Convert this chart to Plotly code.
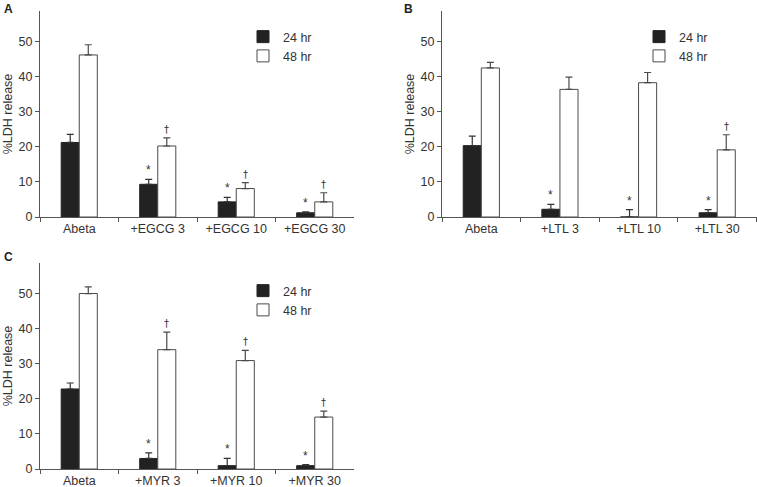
import plotly.graph_objects as go

cats_a = ["Abeta", "+EGCG 3", "+EGCG 10", "+EGCG 30"]
a24 = [21.2, 9.3, 4.3, 1.2]
a24_err = [2.3, 1.4, 1.3, 0.3]
a48 = [46.1, 20.2, 8.1, 4.3]
a48_err = [2.9, 2.3, 1.7, 2.6]
a_star = [False, True, True, True]
a_dag = [False, True, True, True]

cats_b = ["Abeta", "+LTL 3", "+LTL 10", "+LTL 30"]
b24 = [20.3, 2.2, 0.0, 1.2]
b24_err = [2.7, 1.4, 2.1, 0.9]
b48 = [42.4, 36.3, 38.2, 19.1]
b48_err = [1.6, 3.5, 2.9, 4.3]
b_star = [False, True, True, True]
b_dag = [False, False, False, True]

cats_c = ["Abeta", "+MYR 3", "+MYR 10", "+MYR 30"]
c24 = [22.8, 3.0, 0.95, 0.95]
c24_err = [1.7, 1.6, 2.1, 0.3]
c48 = [50.0, 34.0, 30.9, 14.8]
c48_err = [1.9, 5.0, 2.9, 1.7]
c_star = [False, True, True, True]
c_dag = [False, True, True, True]

yticks = [0, 10, 20, 30, 40, 50]
series_names = ["24 hr", "48 hr"]

FONT = "Liberation Sans, Arial, sans-serif"
TXT = "#333333"
AX = "#555555"
BARGAP = 0.54
FS = 12.5

fig = go.Figure()
panels = [
    ("A", cats_a, a24, a24_err, a48, a48_err, a_star, a_dag, "x", "y", "legend"),
    ("B", cats_b, b24, b24_err, b48, b48_err, b_star, b_dag, "x2", "y2", "legend2"),
    ("C", cats_c, c24, c24_err, c48, c48_err, c_star, c_dag, "x3", "y3", "legend3"),
]

annotations = []
for label, cats, v24, e24, v48, e48, st, dg, xa, ya, lg in panels:
    fig.add_trace(go.Bar(
        x=cats, y=v24, name=series_names[0], xaxis=xa, yaxis=ya, legend=lg,
        marker=dict(color="#222222", line=dict(color="#222222", width=1)),
        error_y=dict(type="data", array=e24, arrayminus=[0] * len(e24), symmetric=False,
                     width=3.5, thickness=1.2, color="#333333"),
    ))
    fig.add_trace(go.Bar(
        x=cats, y=v48, name=series_names[1], xaxis=xa, yaxis=ya, legend=lg,
        marker=dict(color="white", line=dict(color="#4a4a4a", width=1)),
        error_y=dict(type="data", array=e48, arrayminus=[0] * len(e48), symmetric=False,
                     width=3.5, thickness=1.2, color="#4a4a4a"),
    ))
    off = (1 - BARGAP) / 4
    for i in range(len(cats)):
        if st[i]:
            annotations.append(dict(x=i - off, y=v24[i] + e24[i], xref=xa, yref=ya, text="*",
                                    showarrow=False, yanchor="bottom", yshift=0,
                                    font=dict(family=FONT, size=12, color="#333333")))
        if dg[i]:
            annotations.append(dict(x=i + off, y=v48[i] + e48[i], xref=xa, yref=ya, text="†",
                                    showarrow=False, yanchor="bottom", yshift=1,
                                    font=dict(family="DejaVu Sans, sans-serif", size=10,
                                              color="#333333")))

W, H = 757, 487
def fx(p):
    return p / W
def fy(p):
    return 1 - p / H

xdom_l = [fx(40), fx(354)]
xdom_r = [fx(442), fx(756.5)]
ydom_t = [fy(217), fy(11)]
ydom_b = [fy(469), fy(263)]

axis_common = dict(showline=True, linecolor=AX, linewidth=1, ticks="outside", tickcolor=AX,
                   ticklen=4, tickwidth=1, showgrid=False, zeroline=False, automargin=False,
                   tickfont=dict(family=FONT, size=FS, color=TXT))

xcommon = dict(axis_common, type="category", tickson="boundaries", range=[-0.5, 3.5], ticklen=4)
ycommon = dict(axis_common, tickvals=yticks,
               title=dict(text="%LDH release", font=dict(family=FONT, size=FS, color=TXT), standoff=3))

leg = dict(xanchor="left", yanchor="top", bgcolor="rgba(0,0,0,0)",
           font=dict(family=FONT, size=FS, color=TXT), tracegroupgap=0)

fig.update_layout(
    width=W, height=H, margin=dict(l=0, r=0, t=0, b=0, autoexpand=False),
    paper_bgcolor="white", plot_bgcolor="white",
    barmode="group", bargap=BARGAP, bargroupgap=0,
    font=dict(family=FONT, size=FS, color=TXT),
    xaxis=dict(xcommon, domain=xdom_l, anchor="y"),
    yaxis=dict(ycommon, domain=ydom_t, anchor="x", range=[0, 58.6]),
    xaxis2=dict(xcommon, domain=xdom_r, anchor="y2"),
    yaxis2=dict(ycommon, domain=ydom_t, anchor="x2", range=[0, 58.6]),
    xaxis3=dict(xcommon, domain=xdom_l, anchor="y3"),
    yaxis3=dict(ycommon, domain=ydom_b, anchor="x3", range=[0, 58.7]),
    legend=dict(leg, x=fx(243), y=fy(22)),
    legend2=dict(leg, x=fx(639), y=fy(22)),
    legend3=dict(leg, x=fx(243), y=fy(276)),
)

for lab, px, py in [("A", 2, 0), ("B", 402, 0), ("C", 2, 248)]:
    annotations.append(dict(x=fx(px), y=fy(py), xref="paper", yref="paper", text="<b>%s</b>" % lab,
                            showarrow=False, xanchor="left", yanchor="top",
                            font=dict(family=FONT, size=12, color="#222222")))

fig.update_layout(annotations=annotations)
fig.write_html("out.html", config={"displayModeBar": False},
               post_script="document.body.style.margin='0';document.body.style.padding='0';"
                           "document.documentElement.style.overflow='hidden';")
